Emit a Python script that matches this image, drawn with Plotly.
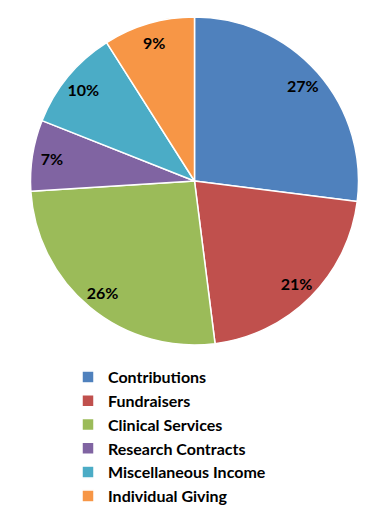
import plotly.graph_objects as go

categories = ["Contributions", "Fundraisers", "Clinical Services",
              "Research Contracts", "Miscellaneous Income", "Individual Giving"]
values = [27, 21, 26, 7, 10, 9]
colors = ["#4F81BD", "#C0504D", "#9BBB59", "#8064A2", "#4BACC6", "#F79646"]

W, H = 360, 500
domain = dict(x=[13 / W, 1], y=[163 / H, 1 - 9 / H])

# Coloured slices (no text)
pie = go.Pie(
    labels=categories,
    values=values,
    sort=False,
    direction="clockwise",
    rotation=0,
    domain=domain,
    marker=dict(colors=colors, line=dict(color="white", width=1.5)),
    textinfo="none",
    hoverinfo="label+percent",
)

# Transparent ring carrying the percentage labels near the rim
ring = go.Pie(
    labels=categories,
    values=values,
    sort=False,
    direction="clockwise",
    rotation=0,
    domain=domain,
    hole=0.76,
    marker=dict(colors=["rgba(0,0,0,0)"] * len(values), line=dict(width=0)),
    texttemplate="%{percent:.0%}",
    textposition="inside",
    insidetextorientation="horizontal",
    textfont=dict(family="Lato", size=16, color="black", weight="bold"),
    showlegend=False,
    hoverinfo="skip",
)

fig = go.Figure([pie, ring])

fig.update_layout(
    width=W, height=H,
    margin=dict(l=0, r=0, t=0, b=0, autoexpand=False),
    paper_bgcolor="white",
    plot_bgcolor="white",
    showlegend=True,
    legend=dict(
        xref="container", yref="container",
        x=60 / W, y=1 - 352 / H, xanchor="left", yanchor="top",
        font=dict(family="Lato", size=16, color="black", weight="bold"),
        itemclick=False,
        itemwidth=30,
        tracegroupgap=0,
        bgcolor="rgba(0,0,0,0)",
    ),
    uniformtext=dict(minsize=16, mode="show"),
)

fig.write_html("out.html")
